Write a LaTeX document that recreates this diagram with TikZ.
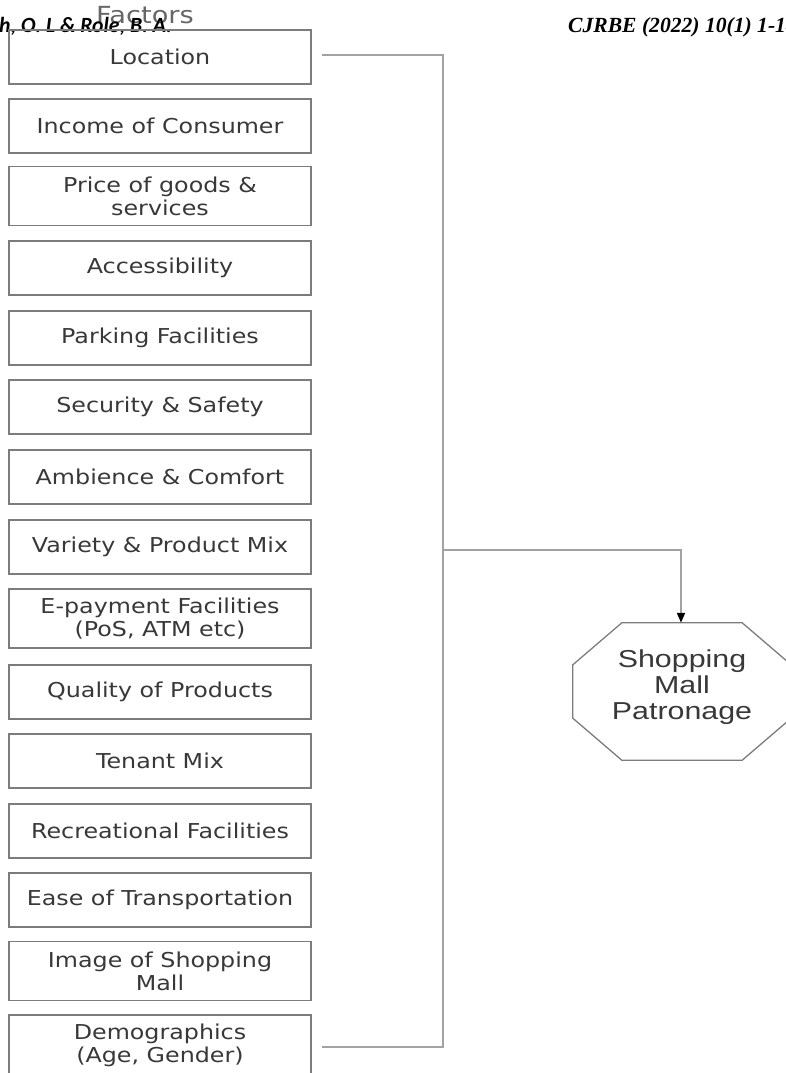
\documentclass[tikz,border=0pt]{standalone}
\usepackage{fontspec}
\usetikzlibrary{arrows.meta,calc}
\newfontfamily\boxfont[FakeStretch=1.16]{DejaVu Sans}
\newfontfamily\octfont[FakeStretch=1.24]{Liberation Sans}
\newfontfamily\hdrsans{Carlito}
\newfontfamily\hdrserif{Liberation Serif}
\definecolor{txt}{HTML}{383838}
\definecolor{boxline}{HTML}{7C7C7C}
\definecolor{connline}{HTML}{A2A2A2}
\definecolor{titlegray}{HTML}{666666}
\tikzset{
  factor/.style={draw=boxline, line width=1.3pt, minimum width=302pt, minimum height=54pt,
    inner sep=0pt, align=center, text=txt, font=\boxfont\fontsize{20.5}{23}\selectfont},
  tallbox/.style={minimum height=59pt},
  conn/.style={draw=connline, line width=2pt},
  octline/.style={draw=boxline, line width=1.3pt, line join=miter},
}
\begin{document}
\begin{tikzpicture}[x=1pt,y=-1pt]
\useasboundingbox (0,0) rectangle (786,1073);
% title (cut off at top)
\node[anchor=base, inner sep=0pt, text=titlegray, font=\boxfont\fontsize{23.5}{26}\selectfont] (title) at (145,24) {Factors};
% running headers
\node[anchor=base west, inner sep=0pt, font=\hdrsans\bfseries\itshape\fontsize{21.7}{24}\selectfont] (hdrl) at (-1,33) {h, O. L \& Role, B. A.};
\node[anchor=base west, inner sep=0pt, font=\hdrserif\bfseries\itshape\fontsize{21.6}{24}\selectfont] (hdrr) at (568,33) {CJRBE (2022) 10(1) 1-14};
% factor boxes
\node[factor] (loc)  at (160,57)    {Location};
\node[factor] (inc)  at (160,126)   {Income of Consumer};
\node[factor,tallbox] (price) at (160,196) {Price of goods \&\\services};
\node[factor] (acc)  at (160,268)   {Accessibility};
\node[factor] (park) at (160,338)   {Parking Facilities};
\node[factor] (sec)  at (160,407)   {Security \& Safety};
\node[factor] (amb)  at (160,477)   {Ambience \& Comfort};
\node[factor] (var)  at (160,547)   {Variety \& Product Mix};
\node[factor,tallbox] (epay) at (160,618.5) {E-payment Facilities\\(PoS, ATM etc)};
\node[factor] (qual) at (160,692)   {Quality of Products};
\node[factor] (ten)  at (160,761)   {Tenant Mix};
\node[factor] (rec)  at (160,831)   {Recreational Facilities};
\node[factor] (ease) at (160,900)   {Ease of Transportation};
\node[factor,tallbox] (img) at (160,971) {Image of Shopping\\Mall};
\node[factor,minimum height=60pt] (dem) at (160,1045) {Demographics\\(Age, Gender)};
% octagon target
\node[minimum width=218pt, minimum height=137pt, inner sep=0pt] (oct) at (682,691.5) {};
\draw[octline] ($(oct.north west)+(49,0)$) -- ($(oct.north east)+(-49,0)$)
  -- ($(oct.north east)+(0,42)$) -- ($(oct.south east)+(0,-42)$)
  -- ($(oct.south east)+(-49,0)$) -- ($(oct.south west)+(49,0)$)
  -- ($(oct.south west)+(0,-42)$) -- ($(oct.north west)+(0,42)$) -- cycle;
\node[align=center, inner sep=0pt, text=txt, font=\octfont\fontsize{24.5}{26}\selectfont] (octtext) at (682,687) {Shopping\\Mall\\Patronage};
% connectors
\coordinate (jt) at (443,55);
\coordinate (jb) at (443,1047);
\coordinate (jm) at (443,550);
\draw[conn, line join=miter] ([xshift=10pt,yshift=2pt]loc.east) -- (jt) -- (jb) -- ([xshift=10pt]dem.east |- jb);
\draw[conn, -{Triangle[length=10pt,width=8pt,color=black]}] (jm) -| ([xshift=-1pt]oct.north);
\end{tikzpicture}
\end{document}
